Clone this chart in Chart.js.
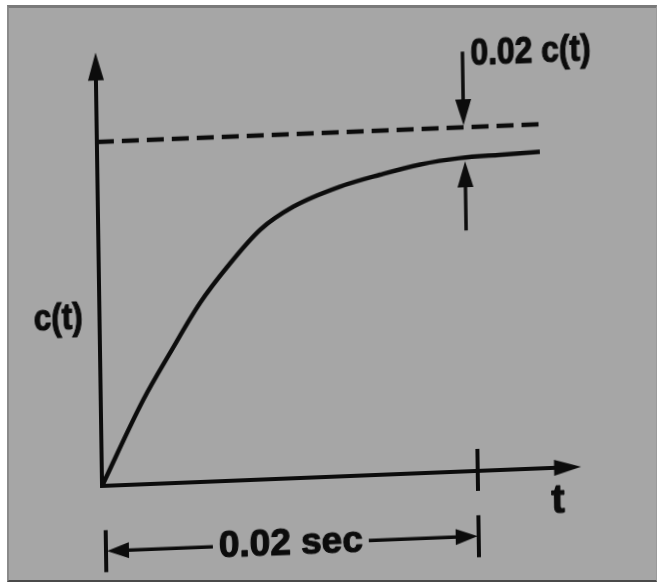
<!DOCTYPE html>
<html>
<head>
<meta charset="utf-8">
<title>c(t) settling time</title>
<script src="https://cdn.jsdelivr.net/npm/chart.js@4.4.1/dist/chart.umd.min.js"></script>
<style>
    html, body { margin: 0; padding: 0; background: #ffffff; }
    #wrap { position: relative; width: 663px; height: 588px; overflow: hidden; }
    #frame {
        position: absolute; left: 7px; top: 5px; width: 650px; height: 577px;
        background: #a6a6a6;
        border-top: 3px solid #7a7a7a; border-left: 2px solid #8a8a8a;
        border-bottom: 2px solid #4a4a4a; border-right: 1px solid #9a9a9a;
        box-sizing: border-box;
    }
    /* the photographed page is slightly tilted */
    #chart {
        position: absolute; left: 0; top: 0;
        transform-origin: 102px 486px;
        transform: matrix(0.999, -0.04, 0.015, 1, 0, 0);
    }
</style>
</head>
<body>
<div id="wrap">
    <div id="frame"></div>
    <canvas id="chart" width="663" height="588"></canvas>
</div>
<script>
// step response c(t) (t in seconds, c as fraction of final value)
const timeSec = [0, 0.00226, 0.00373, 0.00537, 0.00684, 0.00862, 0.0104, 0.01291, 0.01505, 0.01718, 0.01931, 0.02144, 0.02356];
const response = [0, 0.245, 0.379, 0.521, 0.622, 0.726, 0.789, 0.842, 0.872, 0.897, 0.911, 0.916, 0.920];

// final value (dashed) line
const finalTime = [0, 0.0236];
const finalValue = 1.0;

// annotations
const settlingTime = 0.02;
const settledValue = 0.91;
const bandArrowTop = 1.22;
const bandArrowTail = 0.70;
const yAxisTop = 1.26;
const xAxisEnd = 0.0255;
const dimLevel = -0.19;

const bandLabel = '0.02 c(t)';
const yLabel = 'c(t)';
const xLabel = 't';
const dimLabel = '0.02 sec';

const INK = '#0c0c0c';

function arrowHead(ctx, x, y, angle, len, half) {
    ctx.save();
    ctx.translate(x, y);
    ctx.rotate(angle);
    ctx.beginPath();
    ctx.moveTo(0, 0);
    ctx.lineTo(-len, -half);
    ctx.lineTo(-len, half);
    ctx.closePath();
    ctx.fill();
    ctx.restore();
}

function line(ctx, x1, y1, x2, y2) {
    ctx.beginPath();
    ctx.moveTo(x1, y1);
    ctx.lineTo(x2, y2);
    ctx.stroke();
}

// heavy label: fill plus a thin stroke, like the bold print in the photo
function heavyText(ctx, text, x, y, sx) {
    ctx.save();
    ctx.translate(x, y);
    ctx.scale(sx, 1);
    ctx.lineWidth = 1.2;
    ctx.lineJoin = 'round';
    ctx.fillText(text, 0, 0);
    ctx.strokeText(text, 0, 0);
    ctx.restore();
}

const sketchPlugin = {
    id: 'sketch',
    afterDatasetsDraw(chart) {
        const ctx = chart.ctx;
        const xs = chart.scales.x;
        const ys = chart.scales.y;
        const px = v => xs.getPixelForValue(v);
        const py = v => ys.getPixelForValue(v);

        ctx.save();
        ctx.strokeStyle = INK;
        ctx.fillStyle = INK;
        ctx.lineWidth = 4;
        ctx.lineCap = 'butt';

        // axes
        const ox = px(0), oy = py(0);
        line(ctx, ox, oy + 2, ox, py(yAxisTop) + 20);
        arrowHead(ctx, ox, py(yAxisTop), -Math.PI / 2, 28, 8);
        line(ctx, ox - 2, oy, px(xAxisEnd) - 20, oy);
        arrowHead(ctx, px(xAxisEnd), oy, 0, 27, 8);

        // tick at settling time
        const sx = px(settlingTime);
        line(ctx, sx, oy - 22, sx, oy + 20);

        // band arrows
        ctx.lineWidth = 3.5;
        line(ctx, sx - 9, py(bandArrowTop), sx - 9, py(finalValue) - 20);
        arrowHead(ctx, sx - 9, py(finalValue) - 2, Math.PI / 2, 26, 8);
        line(ctx, sx - 8, py(settledValue) + 20, sx - 8, py(bandArrowTail));
        arrowHead(ctx, sx - 8, py(settledValue) + 3, -Math.PI / 2, 26, 8);

        // labels
        ctx.font = 'bold 37px "Liberation Sans", Arial, sans-serif';
        ctx.textBaseline = 'alphabetic';
        ctx.textAlign = 'left';
        heavyText(ctx, bandLabel, sx - 1, py(1.18), 0.86);

        ctx.textAlign = 'center';
        ctx.textBaseline = 'middle';
        heavyText(ctx, yLabel, px(-0.0022), py(0.49), 0.85);

        ctx.font = 'bold 40px "Liberation Sans", Arial, sans-serif';
        heavyText(ctx, xLabel, px(0.02425), py(-0.10), 1);

        // dimension line for 0.02 sec
        ctx.font = 'bold 37px "Liberation Sans", Arial, sans-serif';
        const dy = py(dimLevel);
        const dx0 = px(0), dx1 = px(settlingTime);
        const tw = ctx.measureText(dimLabel).width;
        const tc = px(settlingTime / 2);
        heavyText(ctx, dimLabel, tc, dy, 1);
        ctx.lineWidth = 4;
        line(ctx, dx0 + 3, dy - 21, dx0 + 3, dy + 21);
        line(ctx, dx1, dy - 21, dx1, dy + 21);
        ctx.lineWidth = 3.5;
        line(ctx, dx0 + 22, dy, tc - tw / 2 - 6, dy);
        arrowHead(ctx, dx0 + 4, dy, Math.PI, 22, 8);
        line(ctx, tc + tw / 2 + 6, dy, dx1 - 20, dy);
        arrowHead(ctx, dx1 - 1, dy, 0, 22, 8);

        ctx.restore();
    }
};

new Chart(document.getElementById('chart'), {
    type: 'line',
    data: {
        datasets: [
            {
                label: 'c(t)',
                data: timeSec.map((t, i) => ({ x: t, y: response[i] })),
                borderColor: INK,
                borderWidth: 4.5,
                pointRadius: 0,
                cubicInterpolationMode: 'monotone',
                fill: false
            },
            {
                label: 'final value',
                data: finalTime.map(t => ({ x: t, y: finalValue })),
                borderColor: INK,
                borderWidth: 4.5,
                borderDash: [17, 8],
                pointRadius: 0,
                fill: false
            }
        ]
    },
    options: {
        responsive: false,
        animation: false,
        events: [],
        layout: { padding: 0 },
        plugins: {
            legend: { display: false },
            tooltip: { enabled: false }
        },
        scales: {
            x: { type: 'linear', display: false, min: -0.005426, max: 0.02984 },
            y: { type: 'linear', display: false, min: -0.2965, max: 1.4128 }
        }
    },
    plugins: [sketchPlugin]
});
</script>
</body>
</html>
